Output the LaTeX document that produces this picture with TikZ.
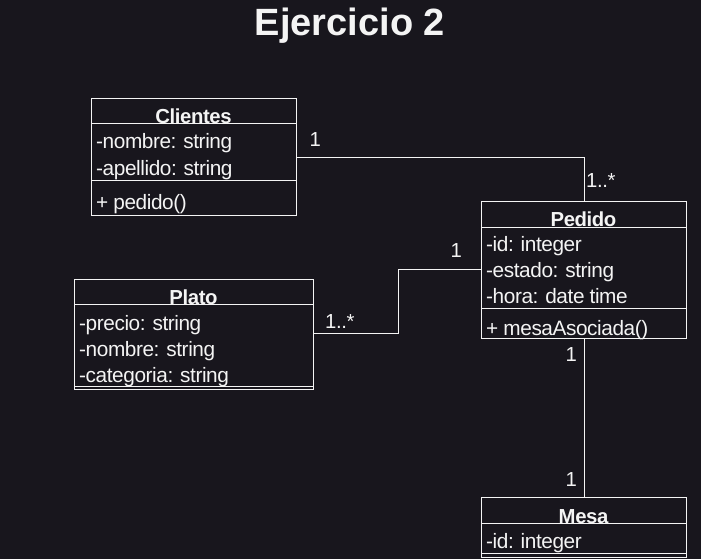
\documentclass[tikz,border=0pt]{standalone}
\usepackage{fontspec}
\setmainfont{Liberation Sans}
\newfontfamily\bodyf{Liberation Sans}[LetterSpace=-2,WordSpace=0.95]
\definecolor{bg}{HTML}{18161D}
\definecolor{fg}{HTML}{F4F4F4}
\begin{document}
\begin{tikzpicture}[x=1pt,y=-1pt,
  txt/.style={anchor=base west,inner sep=0pt,text=fg,font=\bodyf\fontsize{20.8}{24}\selectfont},
  ttl/.style={anchor=base,inner sep=0pt,text=fg,font=\bodyf\fontsize{20.3}{24}\selectfont\bfseries},
  box/.style={draw=fg,line width=1pt},
  sep/.style={draw=fg,line width=1pt},
  conn/.style={draw=fg,line width=1pt},
  mult/.style={anchor=base west,inner sep=0pt,text=fg,font=\bodyf\fontsize{20.3}{23}\selectfont}]
\fill[bg] (0,0) rectangle (701,559);
\useasboundingbox (0,0) rectangle (701,559);
\node[anchor=base,inner sep=0pt,text=fg,font=\fontsize{38}{44}\selectfont\bfseries] (title) at (350,36) {Ejercicio 2};
% Clientes
\draw[box] (91,99) rectangle (296,215);
\node[ttl] (clT) at (193.5,124) {Clientes};
\draw[sep] (91,124) -- (296,124);
\node[txt] (cl1) at (96,149) {-nombre: string};
\node[txt] (cl2) at (96,175) {-apellido: string};
\draw[sep] (91,180) -- (296,180);
\node[txt] (cl3) at (96,209) {+ pedido()};
% Pedido
\draw[box] (481,201) rectangle (686,338);
\node[ttl] (peT) at (583.5,226) {Pedido};
\draw[sep] (481,227) -- (686,227);
\node[txt] (pe1) at (486,251) {-id: integer};
\node[txt] (pe2) at (486,277) {-estado: string};
\node[txt] (pe3) at (486,303) {-hora: date time};
\draw[sep] (481,308) -- (686,308);
\node[txt] (pe4) at (486,335) {+ mesaAsociada()};
% Plato
\draw[box] (74,279) rectangle (313,389);
\node[ttl] (plT) at (193.5,304) {Plato};
\draw[sep] (74,304) -- (313,304);
\node[txt] (pl1) at (79,330) {-precio: string};
\node[txt] (pl2) at (79,356) {-nombre: string};
\node[txt] (pl3) at (79,382) {-categoria: string};
\draw[sep] (74,386) -- (313,386);
% Mesa
\draw[box] (481,497) rectangle (686,557);
\node[ttl] (meT) at (583.5,523) {Mesa};
\draw[sep] (481,523) -- (686,523);
\node[txt] (me1) at (486,548) {-id: integer};
\draw[sep] (481,553) -- (686,553);
% connectors
\coordinate (a1) at (296,157);
\coordinate (a2) at (584,201);
\draw[conn] (a1) -| (a2);
\coordinate (b1) at (313,333);
\coordinate (b2) at (398,269);
\coordinate (b3) at (481,269);
\draw[conn] (b1) -| (b2) -- (b3);
\coordinate (c1) at (584,338);
\coordinate (c2) at (584,497);
\draw[conn] (c1) -- (c2);
% multiplicities
\node[mult] (m1) at (309.5,146.5) {1};
\node[mult] (m2) at (586,187) {1..*};
\node[mult] (m3) at (450.5,257) {1};
\node[mult] (m4) at (325,328) {1..*};
\node[mult] (m5) at (565.5,361) {1};
\node[mult] (m6) at (565.5,486) {1};
\end{tikzpicture}
\end{document}
